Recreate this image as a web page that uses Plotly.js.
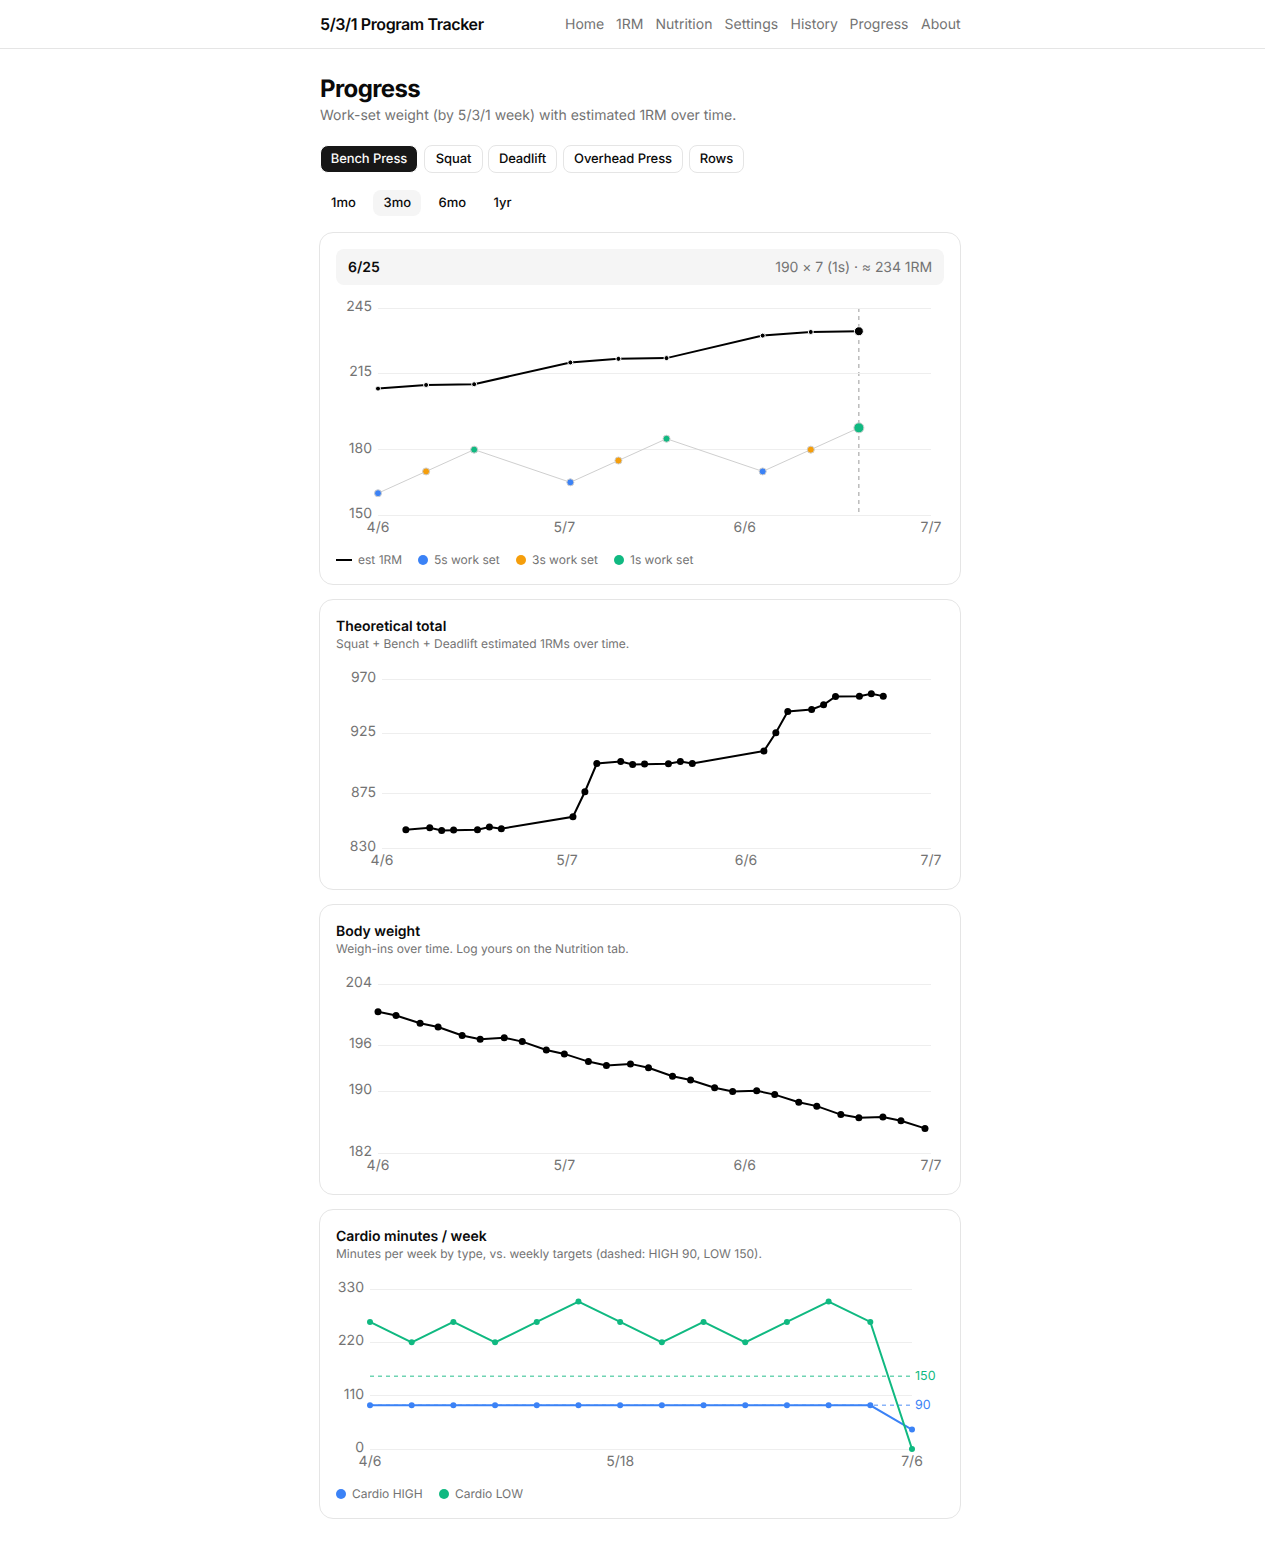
<!DOCTYPE html>
<html><head><meta charset="utf-8">
<script src="https://cdn.plot.ly/plotly-3.0.1.min.js"></script>
<style>
html,body{margin:0;padding:0;background:#fff;font-family:Inter,sans-serif;color:#0a0a0a;-webkit-font-smoothing:antialiased;text-rendering:geometricPrecision}
svg text{text-rendering:geometricPrecision}
#page{position:relative;width:1265px;height:1542px;overflow:hidden}
.t{position:absolute;white-space:nowrap;line-height:1}
.box{position:absolute;box-sizing:border-box}
.card{position:absolute;box-sizing:border-box;left:319px;width:642px;border:1px solid #e5e5e5;border-radius:14px;background:#fff}
.plot{position:absolute;left:320px;width:640px}
</style></head>
<body><div id="page"></div>
<script>
// ---- Strength chart ----
const strengthDates = ['2025-04-06','2025-04-14','2025-04-22','2025-05-08','2025-05-16','2025-05-24','2025-06-09','2025-06-17','2025-06-25'];
const est1RM = [208,209.67,210,220,221.67,222,232.33,234,234.33];
const workSet = [160,170,180,165,175,185,170,180,190];
const workType = ['5s','3s','1s','5s','3s','1s','5s','3s','1s'];
const activeDate = '2025-06-25';
const strengthTicks = [150,180,215,245];
// ---- Theoretical total ----
const totalDates = ['2025-04-10','2025-04-14','2025-04-16','2025-04-18','2025-04-22','2025-04-24','2025-04-26','2025-05-08','2025-05-10','2025-05-12','2025-05-16','2025-05-18','2025-05-20','2025-05-24','2025-05-26','2025-05-28','2025-06-09','2025-06-11','2025-06-13','2025-06-17','2025-06-19','2025-06-21','2025-06-25','2025-06-27','2025-06-29'];
const totalValues = [845.1,846.8,844.6,844.9,845.1,847.4,846,855.9,876.6,900,901.7,899.2,899.5,899.8,901.7,900,910.3,925.4,943.1,944.8,948.6,955.5,955.8,957.7,955.8];
const totalTicks = [830,875,925,970];
// ---- Body weight ----
const weightDates = ['2025-04-06','2025-04-09','2025-04-13','2025-04-16','2025-04-20','2025-04-23','2025-04-27','2025-04-30','2025-05-04','2025-05-07','2025-05-11','2025-05-14','2025-05-18','2025-05-21','2025-05-25','2025-05-28','2025-06-01','2025-06-04','2025-06-08','2025-06-11','2025-06-15','2025-06-18','2025-06-22','2025-06-25','2025-06-29','2025-07-02','2025-07-06'];
const weightValues = [200.4,199.9,198.9,198.4,197.3,196.8,197,196.5,195.4,194.9,193.9,193.4,193.6,193.1,192,191.5,190.5,190,190.1,189.6,188.6,188.1,187,186.6,186.7,186.2,185.2];
const weightTicks = [182,190,196,204];
// ---- Cardio ----
const cardioDates = ['2025-04-06','2025-04-13','2025-04-20','2025-04-27','2025-05-04','2025-05-11','2025-05-18','2025-05-25','2025-06-01','2025-06-08','2025-06-15','2025-06-22','2025-06-29','2025-07-06'];
const cardioHigh = [90,90,90,90,90,90,90,90,90,90,90,90,90,40];
const cardioLow = [262,220,262,220,262,304,262,220,262,220,262,304,262,0];
const targetHigh = 90, targetLow = 150;
const cardioTicks = [0,110,220,330];
const dateTicks = ['2025-04-06','2025-05-07','2025-06-06','2025-07-07'];
const dateTickText = ['4/6','5/7','6/6','7/7'];
const cardioDateTicks = ['2025-04-06','2025-05-18','2025-07-06'];
const cardioDateTickText = ['4/6','5/18','7/6'];

const BLUE='#3b82f6',AMBER='#f59e0b',GREEN='#10b981',INK='#000000',GRID='#eeeeee',MUTED='#737373';
const typeColor={'5s':BLUE,'3s':AMBER,'1s':GREEN};
const page=document.getElementById('page');
function text(s,x,yc,size,color,weight,extra){const e=document.createElement('div');e.className='t';e.textContent=s;
  e.style.cssText+=`left:${x}px;top:${yc-size/2}px;font-size:${size}px;color:${color};font-weight:${weight||400};`+(extra||'');page.appendChild(e);return e;}
function box(x,y,w,h,css){const e=document.createElement('div');e.className='box';e.style.cssText+=`left:${x}px;top:${y}px;width:${w}px;height:${h}px;`+css;page.appendChild(e);return e;}

// Chrome
box(0,48,1265,1,'background:#e5e5e5');
text('5/3/1 Program Tracker',320,24,16,'#0a0a0a',600,'letter-spacing:-0.4px');
[['Home',565],['1RM',616],['Nutrition',655.5],['Settings',724.5],['History',790.5],['Progress',849.5],['About',921]].forEach(n=>text(n[0],n[1],25,14,MUTED));
text('Progress',320,89,24,'#0a0a0a',700,'letter-spacing:-0.6px');
text('Work-set weight (by 5/3/1 week) with estimated 1RM over time.',320,116,14,MUTED);
[['Bench Press',320,98,1],['Squat',424,59],['Deadlift',488,69],['Overhead Press',563,120],['Rows',689,55]].forEach(p=>{
  box(p[1],145,p[2],28,`border-radius:8px;border:1px solid ${p[3]?'#fff':'#e5e5e5'};background:${p[3]?'#171717':'#fff'};text-align:center;line-height:27px;font-size:13px;letter-spacing:-0.1px;color:${p[3]?'#fafafa':'#0a0a0a'};font-weight:500`).textContent=p[0];
});
box(373,190,48,26,'border-radius:8px;background:#f5f5f5');
[['1mo',331],['3mo',383.5],['6mo',438.5],['1yr',493.5]].forEach(r=>text(r[0],r[1],203.5,13,'#0a0a0a',500));

// Cards
[[232,353],[599,291],[904,291],[1209,310]].forEach(c=>{const e=document.createElement('div');e.className='card';e.style.top=c[0]+'px';e.style.height=c[1]+'px';page.appendChild(e);});
box(336,249,608,36,'background:#f5f5f5;border-radius:8px');
text('6/25',348,268,14,'#0a0a0a',600);
const tip=text('190 × 7 (1s) · ≈ 234 1RM',0,268,14,MUTED,400,'letter-spacing:-0.06px');tip.style.left='auto';tip.style.right=(1265-932)+'px';
text('Theoretical total',336,627,14,'#0a0a0a',600);
text('Squat + Bench + Deadlift estimated 1RMs over time.',336,644,12,MUTED);
text('Body weight',336,932,14,'#0a0a0a',600);
text('Weigh-ins over time. Log yours on the Nutrition tab.',336,949,12,MUTED);
text('Cardio minutes / week',336,1237,14,'#0a0a0a',600);
text('Minutes per week by type, vs. weekly targets (dashed: HIGH 90, LOW 150).',336,1254,12,MUTED);

// Legends
box(336,559,16,2,'background:#000');
text('est 1RM',358,560,12,MUTED);
[['5s work set',BLUE,418],['3s work set',AMBER,516],['1s work set',GREEN,614]].forEach(l=>{box(l[2],555,10,10,`background:${l[1]};border-radius:50%`);text(l[0],l[2]+16,560,12,MUTED);});
[['Cardio HIGH',BLUE,336],['Cardio LOW',GREEN,439]].forEach(l=>{box(l[2],1489,10,10,`background:${l[1]};border-radius:50%`);text(l[0],l[2]+16,1494,12,MUTED);});

function chart(spec){
  const d=document.createElement('div');d.className='plot';d.style.top=spec.top+'px';d.style.height=spec.h+'px';page.appendChild(d);
  // Plotly drops gridlines within a pixel of the range ends, so the plot area is padded by 2px
  // and the y range widened to match; the first and last gridlines then draw natively.
  const PAD=2, k=(spec.ymax-spec.ymin)/(spec.y1-spec.y0);
  const layout={width:640,height:spec.h,paper_bgcolor:'rgba(0,0,0,0)',plot_bgcolor:'rgba(0,0,0,0)',showlegend:false,
    margin:{l:spec.l-320,r:960-spec.r,t:spec.y0-PAD-spec.top,b:spec.top+spec.h-spec.y1-PAD,pad:0},
    font:{family:'Inter, sans-serif',size:14,color:MUTED},
    xaxis:{type:'date',range:spec.xrange,tickmode:'array',tickvals:spec.xticks,ticktext:spec.xtext,showgrid:false,zeroline:false,showline:false,ticks:'',ticklen:0,tickangle:0,tickfont:{size:14,color:MUTED},ticklabelstandoff:0},
    yaxis:{range:[spec.ymin-PAD*k,spec.ymax+PAD*k],tickmode:'array',tickvals:spec.yticks,ticktext:spec.yticks.map(String),gridcolor:GRID,gridwidth:1,zeroline:false,showline:false,ticks:'',tickfont:{size:14,color:MUTED},ticklabelshift:-2,ticklabelstandoff:5},
    shapes:spec.shapes||[],annotations:spec.annotations||[]};
  Plotly.newPlot(d,spec.traces,layout,{staticPlot:true,displayModeBar:false});
}
function line(x,y,color,width,msize,mcolor){return {type:'scatter',mode:'lines+markers',x:x,y:y,cliponaxis:false,line:{color:color,width:width},marker:{color:mcolor||color,size:msize,opacity:1}};}
const full=['2025-04-06','2025-07-07'];
chart({top:290,h:260,l:378,r:931,y0:308,y1:515,xrange:full,xticks:dateTicks,xtext:dateTickText,ymin:150,ymax:245,yticks:strengthTicks,
  shapes:[{type:'line',layer:'below',xref:'x',yref:'y',x0:activeDate,x1:activeDate,y0:245,y1:150,line:{color:'#999999',width:1,dash:'4px,4px'}}],
  traces:[line(strengthDates,workSet,'#cfcfcf',1,strengthDates.map(d=>d===activeDate?10:7),workType.map(t=>typeColor[t])),
          line(strengthDates,est1RM,INK,2,strengthDates.map(d=>d===activeDate?9:5))]});
chart({top:660,h:215,l:382,r:931,y0:679,y1:848,xrange:full,xticks:dateTicks,xtext:dateTickText,ymin:830,ymax:970,yticks:totalTicks,
  traces:[line(totalDates,totalValues,INK,2,7)]});
chart({top:965,h:215,l:378,r:931,y0:984,y1:1153,xrange:full,xticks:dateTicks,xtext:dateTickText,ymin:182,ymax:204,yticks:weightTicks,
  traces:[line(weightDates,weightValues,INK,2,7)]});
const cx=['2025-04-06','2025-07-06'];
chart({top:1270,h:210,l:370,r:912,y0:1289,y1:1449,xrange:cx,xticks:cardioDateTicks,xtext:cardioDateTickText,ymin:0,ymax:330,yticks:cardioTicks,
  shapes:[{type:'line',layer:'below',xref:'paper',yref:'y',x0:0,x1:1,y0:targetLow,y1:targetLow,opacity:0.6,line:{color:GREEN,width:1.5,dash:'4px,4px'}},
          {type:'line',layer:'below',xref:'paper',yref:'y',x0:0,x1:1,y0:targetHigh,y1:targetHigh,opacity:0.6,line:{color:BLUE,width:1.5,dash:'4px,4px'}}],
  annotations:[{xref:'paper',yref:'y',x:1,y:targetLow,text:String(targetLow),showarrow:false,xanchor:'left',xshift:1,yshift:0,font:{size:12.5,color:GREEN}},
               {xref:'paper',yref:'y',x:1,y:targetHigh,text:String(targetHigh),showarrow:false,xanchor:'left',xshift:1,yshift:0,font:{size:12.5,color:BLUE}}],
  traces:[line(cardioDates,cardioHigh,BLUE,2,6),line(cardioDates,cardioLow,GREEN,2,6)]});
</script></body></html>
